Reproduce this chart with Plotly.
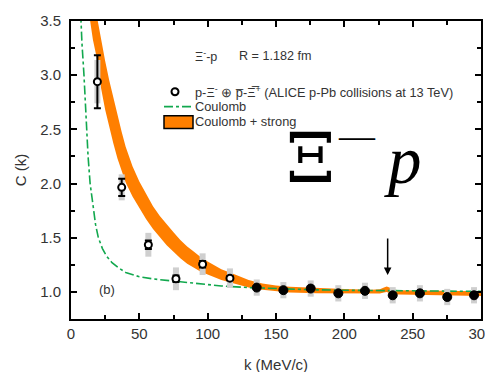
import plotly.graph_objects as go

# ---------------- data ----------------
k_data = [19.3, 37.1, 56.6, 76.8, 96.3, 116.3, 135.9, 155.4, 175.4, 195.6, 215.1, 235.4, 255.3, 275.3, 294.9]
c_data = [2.94, 1.965, 1.435, 1.121, 1.256, 1.127, 1.04, 1.016, 1.031, 0.987, 1.01, 0.969, 0.987, 0.953, 0.969]
stat_err = [0.245, 0.08, 0.04, 0.03, 0.03, 0.02, 0.01, 0.01, 0.01, 0.01, 0.01, 0.01, 0.01, 0.01, 0.01]
sys_err = [0.2, 0.12, 0.11, 0.105, 0.1, 0.09, 0.075, 0.075, 0.075, 0.075, 0.075, 0.075, 0.075, 0.075, 0.075]
n_open = 6  # first points drawn as open circles

k_band = [10, 13, 16, 19, 22, 25, 28, 31, 34, 37, 40, 45, 50, 55, 60, 65, 70, 75, 80, 85, 90, 95,
          100, 110, 120, 130, 140, 150, 160, 180, 200, 220, 226, 229, 231, 233, 236, 240, 260, 280, 300]
band_low = [3.84, 3.57, 3.33, 3.15, 2.88, 2.68, 2.52, 2.37, 2.23, 2.11, 2.01, 1.88, 1.77, 1.67, 1.58,
            1.50, 1.43, 1.37, 1.31, 1.26, 1.22, 1.185, 1.16, 1.11, 1.075, 1.04, 1.02, 1.005, 0.995,
            0.988, 0.984, 0.981, 0.985, 0.995, 1.0, 0.99, 0.978, 0.975, 0.97, 0.966, 0.962]
band_high = [4.3, 4.02, 3.77, 3.54, 3.33, 3.13, 2.95, 2.79, 2.64, 2.48, 2.34, 2.16, 2.02, 1.90, 1.79,
             1.70, 1.62, 1.55, 1.48, 1.42, 1.37, 1.32, 1.28, 1.21, 1.16, 1.11, 1.077, 1.058, 1.048,
             1.035, 1.027, 1.02, 1.025, 1.04, 1.05, 1.04, 1.022, 1.016, 1.012, 1.009, 1.007]

k_coul = [6, 7.3, 8, 9.5, 11, 12.5, 14, 16, 18, 20, 23, 26, 30, 35, 40, 50, 60, 75, 90, 110, 130, 150,
          175, 200, 250, 300]
c_coul = [3.9, 3.5, 3.3, 3.0, 2.6, 2.25, 2.0, 1.78, 1.62, 1.5, 1.4, 1.33, 1.27, 1.22, 1.18, 1.14, 1.12,
          1.10, 1.08, 1.055, 1.04, 1.03, 1.02, 1.015, 1.008, 1.005]

x_ticks = [0, 50, 100, 150, 200, 250, 300]
y_ticks = [1.0, 1.5, 2.0, 2.5, 3.0, 3.5]

arrow_k = 231.7
arrow_from, arrow_to = 1.507, 1.157

ORANGE = "#ff7f00"
GREEN = "#12a84e"
FONT = "Liberation Sans, Arial, sans-serif"
SERIF = "Liberation Serif, DejaVu Serif, serif"

# page geometry: the body keeps its default 8px margin; the photographed picture
# maps page y to picture y roughly as y_pic = 8.36 + 0.974 * y_page.
OFF = 8
W, H = 493, 372
PL, PR, PT, PB = 71, 481, 12, 319          # plot area in page pixels
L, T = PL - OFF, PT - OFF
R = W - (PR - OFF)
B = H - (PB - OFF)


def pg(y_pic):
    """picture y -> page y"""
    return (y_pic - 8.36) / 0.974


def px(x):
    return (x - PL) / (PR - PL)


def py(y_pic):
    return (PB - pg(y_pic)) / (PB - PT)


fig = go.Figure()

# orange band (Coulomb + strong)
fig.add_trace(go.Scatter(x=k_band, y=band_low, mode="lines", line=dict(width=0, color=ORANGE),
                         showlegend=False, hoverinfo="skip"))
fig.add_trace(go.Scatter(x=k_band, y=band_high, mode="lines", line=dict(width=0, color=ORANGE),
                         fill="tonexty", fillcolor=ORANGE, showlegend=False, hoverinfo="skip"))

# Coulomb only
fig.add_trace(go.Scatter(x=k_coul, y=c_coul, mode="lines",
                         line=dict(color=GREEN, width=1.6, dash="dashdot"),
                         showlegend=False, hoverinfo="skip"))

# systematic boxes (grey)
fig.add_trace(go.Scatter(x=k_data, y=c_data, mode="markers", marker=dict(size=0.1, opacity=0),
                         error_y=dict(type="data", array=sys_err, color="#cfcfcf", thickness=6, width=0),
                         showlegend=False, hoverinfo="skip"))

# statistical errors + markers
fig.add_trace(go.Scatter(x=k_data[:n_open], y=c_data[:n_open], mode="markers",
                         marker=dict(symbol="circle", size=7, color="white",
                                     line=dict(color="black", width=2)),
                         error_y=dict(type="data", array=stat_err[:n_open], color="black",
                                      thickness=2, width=3.5),
                         showlegend=False))
fig.add_trace(go.Scatter(x=k_data[n_open:], y=c_data[n_open:], mode="markers",
                         marker=dict(symbol="circle", size=9, color="black",
                                     line=dict(color="black", width=1)),
                         error_y=dict(type="data", array=stat_err[n_open:], color="black",
                                      thickness=1.5, width=3),
                         showlegend=False))

axis_common = dict(
    showline=True, linewidth=2, linecolor="black", mirror="ticks",
    ticks="inside", ticklen=6, tickwidth=1.5, tickcolor="black",
    showgrid=False, zeroline=False, ticklabeloverflow="allow",
    tickfont=dict(family=FONT, size=15, color="#333333"),
)

fig.update_xaxes(range=[0, 300], tickvals=x_ticks, ticktext=[str(v) for v in x_ticks],
                 minor=dict(ticks="inside", dtick=25, ticklen=4, tickwidth=1.5, tickcolor="black",
                            showgrid=False),
                 title=dict(text="k (MeV/c)", font=dict(family=FONT, size=15, color="#333333"),
                            standoff=18),
                 ticklabelstandoff=0,
                 **axis_common)
fig.update_yaxes(range=[0.75, 3.5], tickvals=y_ticks, ticktext=[f"{v:.1f}" for v in y_ticks],
                 minor=dict(ticks="inside", dtick=0.25, ticklen=4, tickwidth=1.5, tickcolor="black",
                            showgrid=False),
                 title=dict(text="C (k)", font=dict(family=FONT, size=15, color="#333333"),
                            standoff=10),
                 ticklabelstandoff=5,
                 **axis_common)

shapes = []
# legend symbols
shapes.append(dict(type="circle", xref="paper", yref="paper",
                   x0=px(171.5), x1=px(178.5), y0=py(94.5), y1=py(87.5),
                   line=dict(color="black", width=2), fillcolor="white"))
shapes.append(dict(type="line", xref="paper", yref="paper",
                   x0=px(164), x1=px(193), y0=py(106), y1=py(106),
                   line=dict(color=GREEN, width=1.6, dash="dashdot")))
shapes.append(dict(type="rect", xref="paper", yref="paper",
                   x0=px(164), x1=px(193), y0=py(128), y1=py(115),
                   line=dict(color="black", width=1.5), fillcolor=ORANGE))
# white box behind the large overlaid label
shapes.append(dict(type="rect", xref="paper", yref="paper", layer="above",
                   x0=px(287), x1=px(440), y0=py(210), y1=py(121.5),
                   line=dict(width=0), fillcolor="white"))

ann = []
txt = dict(family=FONT, size=12.6, color="#333333")
ann.append(dict(xref="paper", yref="paper", x=px(193), y=py(55), xanchor="left", yanchor="middle",
                text="Ξ<sup>-</sup>-p", showarrow=False, font=txt))
ann.append(dict(xref="paper", yref="paper", x=px(237), y=py(55), xanchor="left", yanchor="middle",
                text="R = 1.182 fm", showarrow=False, font=txt))
leg = dict(family=FONT, size=12.8, color="#333333")
ann.append(dict(xref="paper", yref="paper", x=px(193), y=py(91), xanchor="left", yanchor="middle",
                text="p-Ξ<sup>-</sup> ⊕ p̅-Ξ̅<sup>+</sup> (ALICE p-Pb collisions at 13 TeV)",
                showarrow=False, font=leg))
ann.append(dict(xref="paper", yref="paper", x=px(193), y=py(106), xanchor="left", yanchor="middle",
                text="Coulomb", showarrow=False, font=leg))
ann.append(dict(xref="paper", yref="paper", x=px(193), y=py(120.5), xanchor="left", yanchor="middle",
                text="Coulomb + strong", showarrow=False, font=leg))
# large overlaid label
ann.append(dict(xref="paper", yref="paper", x=px(310), y=py(158), xanchor="center", yanchor="middle",
                text="Ξ", showarrow=False, font=dict(family="DejaVu Serif, serif", size=70, color="black")))
ann.append(dict(xref="paper", yref="paper", x=px(357), y=py(135.5), xanchor="center", yanchor="middle",
                text="—", showarrow=False, font=dict(family=SERIF, size=36, color="black")))
ann.append(dict(xref="paper", yref="paper", x=px(403), y=py(160), xanchor="center", yanchor="middle",
                text="<i>p</i>", showarrow=False, font=dict(family=SERIF, size=67, color="black")))
# panel label
ann.append(dict(x=26.5, y=1.02, xref="x", yref="y", text="(b)", showarrow=False,
                font=dict(family=FONT, size=13, color="#333333")))
# arrow
ann.append(dict(x=arrow_k, y=arrow_to, ax=arrow_k, ay=arrow_from, xref="x", yref="y",
                axref="x", ayref="y", text="", showarrow=True, arrowhead=2, arrowsize=1,
                arrowwidth=1.5, arrowcolor="black"))

fig.update_layout(
    width=W, height=H,
    margin=dict(l=L, r=R, t=T, b=B, pad=0),
    paper_bgcolor="white", plot_bgcolor="white",
    shapes=shapes, annotations=ann, showlegend=False,
)

fig.write_html("out.html", config={"displayModeBar": False})
